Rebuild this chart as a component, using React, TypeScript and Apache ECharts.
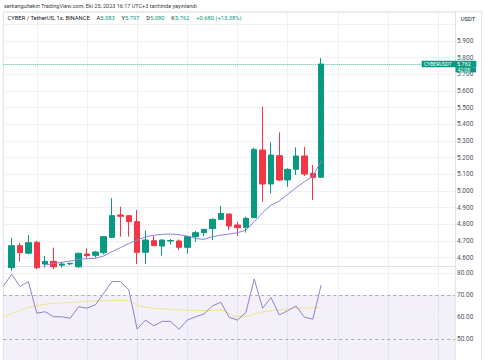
import React, { useEffect, useRef } from "react";
import * as echarts from "echarts";

// ---- data ----
const slotCount = 55; // visible bar slots (incl. empty future space)
const categories: string[] = Array.from({ length: slotCount }, (_, i) => String(i));

// OHLC per candle (index 0 is off-screen)
const candleOpen: (number | null)[] = [null, 4.54, 4.672, 4.627, 4.692, 4.562, 4.578, 4.555, 4.563, 4.545, 4.622, 4.614, 4.63, 4.722, 4.856, 4.852, 4.816, 4.632, 4.702, 4.67, 4.7, 4.7, 4.662, 4.726, 4.75, 4.774, 4.83, 4.862, 4.796, 4.782, 4.84, 5.246, 5.042, 5.212, 5.066, 5.13, 5.21, 5.106, 5.083];
const candleClose: (number | null)[] = [null, 4.672, 4.63, 4.69, 4.54, 4.578, 4.545, 4.562, 4.566, 4.626, 4.612, 4.634, 4.726, 4.852, 4.848, 4.816, 4.632, 4.706, 4.672, 4.706, 4.703, 4.662, 4.726, 4.75, 4.77, 4.83, 4.866, 4.79, 4.78, 4.836, 5.25, 5.042, 5.216, 5.066, 5.13, 5.21, 5.102, 5.082, 5.762];
const candleLow: (number | null)[] = [null, 4.52, 4.576, 4.62, 4.53, 4.54, 4.53, 4.54, 4.555, 4.54, 4.6, 4.6, 4.62, 4.72, 4.726, 4.726, 4.562, 4.562, 4.67, 4.612, 4.68, 4.646, 4.626, 4.696, 4.73, 4.706, 4.83, 4.766, 4.73, 4.75, 4.838, 4.936, 4.986, 5.06, 5.026, 5.096, 5.09, 4.946, 5.08];
const candleHigh: (number | null)[] = [null, 4.72, 4.69, 4.736, 4.7, 4.61, 4.66, 4.575, 4.57, 4.63, 4.656, 4.64, 4.728, 4.956, 4.906, 4.856, 4.886, 4.762, 4.73, 4.708, 4.712, 4.71, 4.73, 4.76, 4.772, 4.836, 4.91, 4.864, 4.816, 4.846, 5.26, 5.506, 5.292, 5.352, 5.136, 5.262, 5.266, 5.156, 5.797];

// moving average on price
const priceMA: (number | null)[] = [null, null, null, null, 4.5, 4.556, 4.565, 4.572, 4.58, 4.59, 4.594, 4.596, 4.61, 4.636, 4.66, 4.685, 4.705, 4.725, 4.735, 4.74, 4.742, 4.738, 4.73, 4.714, 4.71, 4.726, 4.735, 4.742, 4.75, 4.765, 4.815, 4.87, 4.915, 4.94, 4.98, 5.02, 5.055, 5.09, 5.18];

// RSI and its moving average
const rsiValues: number[] = [74.0, 79.4, 73.8, 76.1, 61.7, 62.4, 60.1, 60.1, 59.4, 64.7, 64.0, 65.5, 70.8, 76.1, 76.1, 72.3, 54.5, 58.6, 56.0, 58.0, 58.0, 54.4, 58.6, 60.1, 61.4, 65.0, 66.7, 59.9, 58.6, 62.1, 77.3, 64.0, 68.8, 60.9, 62.9, 65.0, 59.9, 59.0, 74.5];
const rsiMA: number[] = [59.9, 61.5, 63.0, 64.3, 65.2, 65.8, 66.2, 66.4, 66.6, 66.9, 67.1, 67.3, 67.4, 67.5, 67.5, 67.3, 65.5, 64.5, 64.0, 63.7, 63.5, 63.3, 63.1, 63.0, 62.9, 63.0, 63.1, 61.5, 60.2, 60.3, 61.2, 62.3, 62.8, 63.2, 63.6, 64.0, 64.0, 64.1, 64.7];

// tick labels
const priceTicks: number[] = [4.6, 4.7, 4.8, 4.9, 5.0, 5.1, 5.2, 5.3, 5.4, 5.5, 5.6, 5.7, 5.8, 5.9];
const rsiTicks: number[] = [50, 60, 70, 80];
const rsiGridLines: number[] = [60, 80];

const priceMin = 4.55;
const priceMax = 6.074;
const rsiMin = 40.45;
const rsiMax = 90;
const rsiUpper = 70;
const rsiMid = 50;

const headerText = "serkangultekin TradingView.com, Eki 25, 2023 16:17 UTC+3 tarihinde yayınlandı";
const symbolText = "CYBER / TetherUS, 1s, BINANCE";
const tickerName = "CYBERUSDT";
const countdownText = "42:08";
const currencyText = "USDT";

const UP = "#089981";
const DOWN = "#F23645";
const FONT = "Roboto, 'Liberation Sans', sans-serif";

export default function App() {
  const ref = useRef<HTMLDivElement>(null);

  useEffect(() => {
    document.body.style.margin = "0";
    if (!ref.current) return;
    const chart = echarts.init(ref.current, null, { renderer: "svg" });

    const candleData = candleOpen.map((o, i) =>
      o == null ? "-" : [o, candleClose[i], candleLow[i], candleHigh[i]]
    );
    const n = candleOpen.length;
    const lastO = candleOpen[n - 1] as number;
    const lastC = candleClose[n - 1] as number;
    const lastL = candleLow[n - 1] as number;
    const lastH = candleHigh[n - 1] as number;
    const prevC = candleClose[n - 2] as number;
    const chg = lastC - prevC;
    const chgPct = (chg / prevC) * 100;

    const gridLineColor = "#eef0f5";
    const splitInterval = (idx: number) => idx >= 4 && (idx - 4) % 6 === 0;

    const xAxisBase = {
      type: "category" as const,
      data: categories,
      boundaryGap: false,
      axisLabel: { show: false },
      axisTick: { show: false },
      axisLine: { show: true, lineStyle: { color: "#e0e3eb" } },
      splitLine: { show: true, interval: splitInterval, lineStyle: { color: gridLineColor, width: 1 } },
    };

    chart.setOption({
      animation: false,
      backgroundColor: "#ffffff",
      textStyle: { fontFamily: FONT },
      grid: [
        { left: 3.3, right: 30, top: 12, height: 254 },
        { left: 3.3, right: 30, top: 251, height: 109 },
      ],
      xAxis: [
        { ...xAxisBase, gridIndex: 0 },
        { ...xAxisBase, gridIndex: 1, axisLine: { show: false } },
      ],
      yAxis: [
        {
          type: "value",
          gridIndex: 0,
          position: "right",
          min: priceMin,
          max: priceMax,
          minInterval: 0.1,
          maxInterval: 0.1,
          axisLine: { show: true, lineStyle: { color: "#e0e3eb" } },
          axisTick: { show: false },
          axisLabel: {
            customValues: priceTicks,
            margin: 2,
            fontSize: 6.5,
            color: "#50535e",
            fontFamily: FONT,
            formatter: (v: number) => v.toFixed(3),
          },
          splitLine: { show: true, lineStyle: { color: gridLineColor } },
        },
        {
          type: "value",
          gridIndex: 1,
          position: "right",
          min: rsiMin,
          max: rsiMax,
          minInterval: 10,
          maxInterval: 10,
          axisLine: { show: false },
          axisTick: { show: false },
          axisLabel: {
            customValues: rsiTicks,
            margin: 2,
            fontSize: 6.5,
            color: "#50535e",
            fontFamily: FONT,
            formatter: (v: number) => v.toFixed(2),
          },
          splitLine: { show: false },
        },
      ],
      series: [
        {
          type: "candlestick",
          xAxisIndex: 0,
          yAxisIndex: 0,
          data: candleData,
          barWidth: 6,
          clip: true,
          itemStyle: {
            color: UP,
            color0: DOWN,
            borderColor: UP,
            borderColor0: DOWN,
            borderWidth: 1,
          },
          markLine: {
            silent: true,
            symbol: ["none", "none"],
            label: { show: false },
            lineStyle: { color: UP, type: "dotted", width: 1, opacity: 0.7 },
            data: [{ yAxis: lastC }],
          },
        },
        {
          type: "line",
          xAxisIndex: 0,
          yAxisIndex: 0,
          data: priceMA,
          showSymbol: false,
          clip: true,
          lineStyle: { color: "#8a82e0", width: 1 },
          z: 3,
        },
        {
          type: "line",
          xAxisIndex: 1,
          yAxisIndex: 1,
          data: rsiValues,
          showSymbol: false,
          lineStyle: { color: "#8f7fd0", width: 1 },
          z: 4,
          markArea: {
            silent: true,
            itemStyle: { color: "rgba(126,87,194,0.09)" },
            data: [[{ yAxis: rsiUpper }, { yAxis: rsiMin }]],
          },
          markLine: {
            silent: true,
            symbol: ["none", "none"],
            label: { show: false },
            lineStyle: { color: "#a9abb3", type: [3, 3], width: 1 },
            data: [{ yAxis: rsiUpper }, { yAxis: rsiMid }],
          },
        },
        {
          type: "line",
          xAxisIndex: 1,
          yAxisIndex: 1,
          data: rsiMA,
          showSymbol: false,
          smooth: true,
          lineStyle: { color: "#f2e38a", width: 1 },
          z: 3,
          markLine: {
            silent: true,
            symbol: ["none", "none"],
            label: { show: false },
            lineStyle: { color: gridLineColor, type: "solid", width: 1 },
            data: rsiGridLines.map((v) => ({ yAxis: v })),
            z: 1,
          },
        },
      ],
    });

    const tagY = chart.convertToPixel({ xAxisIndex: 0, yAxisIndex: 0 }, [0, lastC])[1] as number;
    const fmt = (v: number) => v.toFixed(3);

    chart.setOption({
      graphic: [
        {
          type: "rect",
          shape: { x: 3.3, y: 11.7, width: 478.4, height: 360 },
          style: { fill: "none", stroke: "#e0e3eb", lineWidth: 1 },
          silent: true,
          z: 1,
        },
        {
          type: "line",
          shape: { x1: 455.3, y1: 266, x2: 455.3, y2: 360 },
          style: { stroke: "#e0e3eb", lineWidth: 1 },
          silent: true,
          z: 1,
        },
        {
          type: "text",
          x: 4,
          y: 6,
          style: {
            text: headerText,
            font: `5.5px ${FONT}`,
            fill: "#3c3c3c",
            verticalAlign: "middle",
          },
          z: 10,
        },
        {
          type: "text",
          x: 7.5,
          y: 18.3,
          style: {
            text:
              `{s|${symbolText}}  {l|A}{v|${fmt(lastO)}}  {l|Y}{v|${fmt(lastH)}}  {l|D}{v|${fmt(lastL)}}  {l|K}{v|${fmt(lastC)}}  {v|+${chg.toFixed(3)} (+${chgPct.toFixed(2)}%)}`,
            verticalAlign: "middle",
            rich: {
              s: { fontSize: 5.8, fill: "#131722", fontFamily: FONT },
              l: { fontSize: 5.8, fill: "#131722", fontFamily: FONT },
              v: { fontSize: 5.8, fill: UP, fontFamily: FONT },
            },
          },
          z: 10,
        },
        {
          type: "text",
          x: 468,
          y: 19,
          style: {
            text: currencyText,
            font: `5.8px ${FONT}`,
            fill: "#131722",
            align: "center",
            verticalAlign: "middle",
          },
          z: 10,
        },
        {
          type: "rect",
          shape: { x: 421.7, y: tagY - 3.2, width: 54.6, height: 6.4 },
          style: { fill: UP },
          z: 20,
        },
        {
          type: "rect",
          shape: { x: 455.5, y: tagY + 3.2, width: 20.5, height: 5.2 },
          style: { fill: UP },
          z: 20,
        },
        {
          type: "text",
          x: 424,
          y: tagY,
          style: { text: tickerName, font: `5px ${FONT}`, fill: "#ffffff", verticalAlign: "middle" },
          z: 21,
        },
        {
          type: "text",
          x: 457,
          y: tagY,
          style: { text: fmt(lastC), font: `5.5px ${FONT}`, fill: "#ffffff", verticalAlign: "middle" },
          z: 21,
        },
        {
          type: "text",
          x: 457.5,
          y: tagY + 5.8,
          style: { text: countdownText, font: `5px ${FONT}`, fill: "#ffffff", verticalAlign: "middle" },
          z: 21,
        },
      ],
    });

    return () => chart.dispose();
  }, []);

  return <div ref={ref} style={{ width: 485, height: 360 }} />;
}
